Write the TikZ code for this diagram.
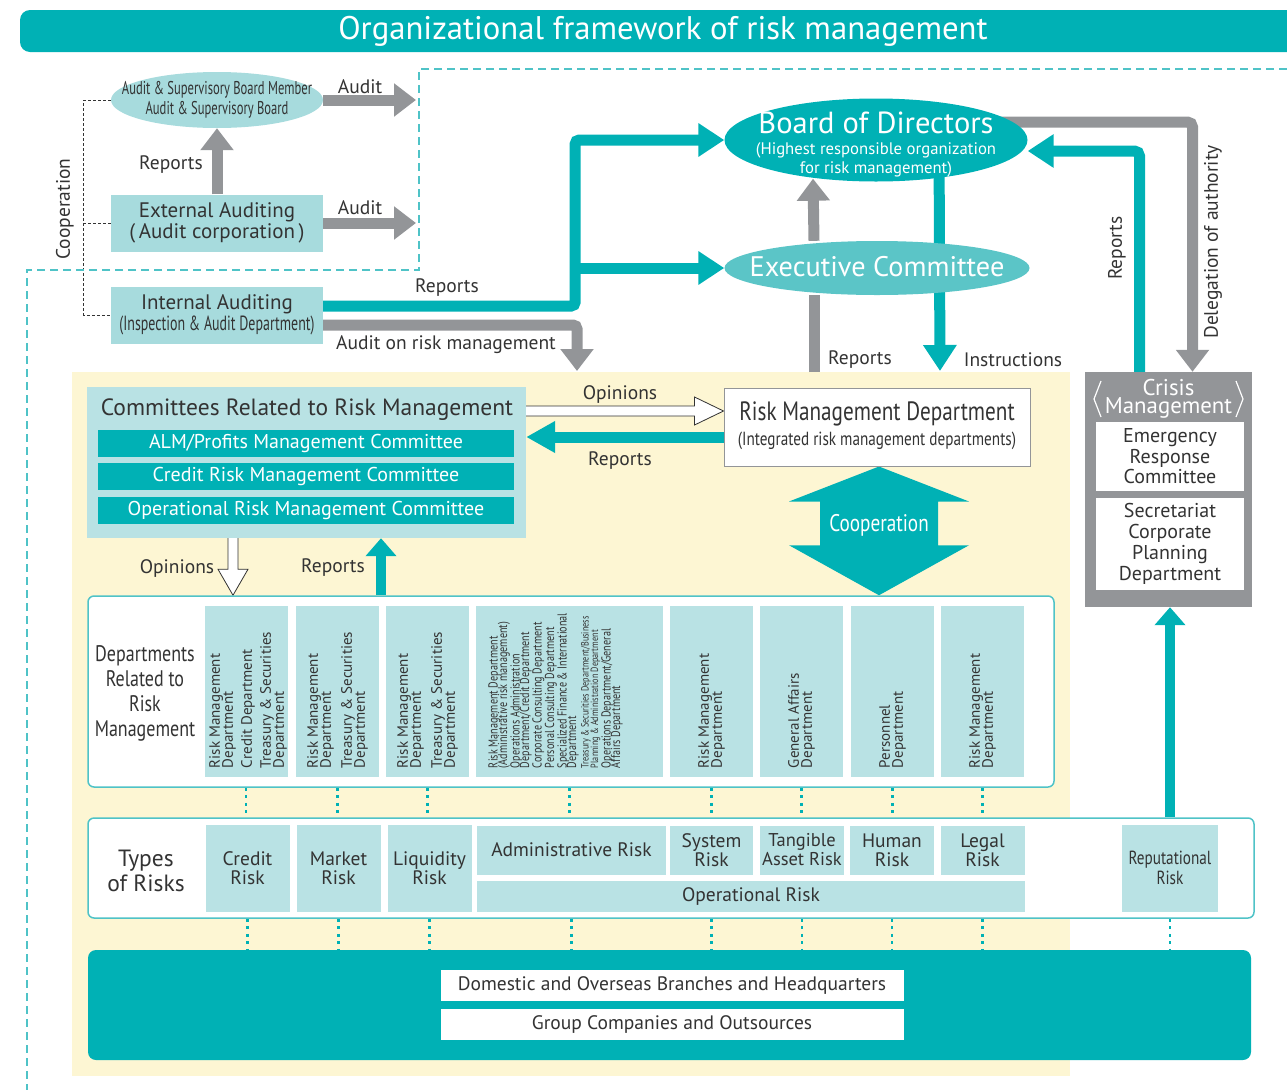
\documentclass[tikz,border=0pt]{standalone}
\usepackage{fontspec}
\setmainfont{PT Sans}
\newfontfamily\narrowfont[FakeStretch=0.8]{PT Sans}
\newfontfamily\colfont[FakeStretch=0.78]{PT Sans}
\newfontfamily\condfont[FakeStretch=0.68]{PT Sans}
\usetikzlibrary{shapes.geometric,arrows.meta,calc}
\newcommand\setfs[2]{\fontsize{#1}{#2}\selectfont}
\definecolor{rmteal}{HTML}{00B1B5}
\definecolor{rmpale}{HTML}{B9E2E4}
\definecolor{rmaudit}{HTML}{A7DBDD}
\definecolor{rmexec}{HTML}{5BC5C7}
\definecolor{rmgrey}{HTML}{939598}
\definecolor{rmyellow}{HTML}{FDF6D3}
\definecolor{rmline}{HTML}{4FC3C7}
\definecolor{rmtext}{HTML}{333333}
\pgfdeclarelayer{back}
\pgfsetlayers{back,main}

\begin{document}
\begin{tikzpicture}[x=1pt,y=-1pt]
\tikzstyle{lbl}=[inner sep=0pt,text=rmtext,font=\setfs{19.5}{21}]
\tikzstyle{box}=[rectangle,inner sep=0pt,align=center,text=rmtext]
\tikzstyle{pale}=[box,fill=rmpale]
\tikzstyle{audit}=[box,fill=rmaudit,minimum width=212pt,minimum height=57pt]
\tikzstyle{bar}=[box,fill=rmteal,text=white,font=\setfs{20}{22},minimum width=416pt,minimum height=27pt]
\tikzstyle{greyarrow}=[draw=rmgrey,line width=11pt,-{Triangle[width=32pt,length=22pt]}]
\tikzstyle{tealarrow}=[draw=rmteal,line width=11pt,-{Triangle[width=32pt,length=26pt]}]
\tikzstyle{tealsmall}=[draw=rmteal,line width=10pt,-{Triangle[width=30pt,length=18pt]}]
\tikzstyle{hollow}=[draw=rmtext,line width=0.8pt,fill=white,line join=miter]
\tikzstyle{dots}=[draw=rmteal,line width=2.5pt,dash pattern=on 3pt off 4.5pt]
\tikzstyle{coltext}=[rotate=90,anchor=west,align=left,inner sep=0pt,text=rmtext,font={\setfs{15}{13}\lineskiplimit=-100pt}]
\tikzstyle{colbox}=[pale,minimum width=83pt,minimum height=171pt]
\tikzstyle{riskbox}=[pale,font=\setfs{19.5}{19}]
\tikzstyle{rmframe}=[rectangle,draw=rmline,line width=1.5pt,rounded corners=6pt,fill=white,inner sep=0pt]
\useasboundingbox (0,0) rectangle (1287,1090);
% title
\fill[rmteal,rounded corners=10pt] (20,10) rectangle (1320,52);
\node[inner sep=0pt,text=white,font=\setfs{32.7}{34}] (title) at (663,31) {Organizational framework of risk management};
% audit frame
\draw[rmline,line width=1.5pt,dash pattern=on 8pt off 5pt] (1287,69) -- (419,69) -- (419,270) -- (27,270) -- (27,1090);
% yellow area
\begin{pgfonlayer}{back}
\node[fill=rmyellow,inner sep=0pt,minimum width=998pt,minimum height=704pt] (rmarea) at (571,724) {};
\end{pgfonlayer}
% auditors
\node[fill=rmaudit,ellipse,inner sep=0pt,minimum width=212pt,minimum height=56pt] (asb) at (217,100) {};
\node[box,font=\condfont\setfs{18.5}{20}] (asbtext) at (asb) {Audit \& Supervisory Board Member\\Audit \& Supervisory Board};
\node[audit,font=\setfs{21}{20.5}] (extaud) at (217,223) {External Auditing\\(\,Audit corporation\,)};
\node[audit,font=\setfs{21}{20.5}] (intaud) at (217,315) {Internal Auditing\\{\condfont\setfs{20.5}{20.5}(Inspection \& Audit Department)}};
% board and executive committee
\node[fill=rmteal,ellipse,inner sep=0pt,minimum width=303pt,minimum height=83pt] (board) at (876,140) {};
\node[box,text=white,font=\setfs{30.5}{32}] (boardtext) at (876,123) {Board of Directors};
\node[box,text=white,font={\setfs{16.7}{19}\lineskiplimit=-100pt}] (boardsub) at (876,160) {(Highest responsible organization\\for risk management)};
\node[fill=rmexec,ellipse,inner sep=0pt,minimum width=305pt,minimum height=54pt] (exec) at (877,268) {};
\node[box,text=white,font=\setfs{28.3}{30}] (exectext) at (877,267) {Executive Committee};
% committees
\node[pale,minimum width=439pt,minimum height=151pt] (comm) at (306.5,462.5) {};
\node[box,font=\setfs{23.5}{25}] (commtitle) at (307,410) {Committees Related to Risk Management};
\node[bar] (alm) at (306,443.5) {ALM/Profits Management Committee};
\node[bar] (crm) at (306,476.5) {Credit Risk Management Committee};
\node[bar] (orm) at (306,510) {Operational Risk Management Committee};
% risk management department
\node[box,fill=white,draw=rmgrey,line width=1pt,minimum width=306pt,minimum height=78pt] (rmd) at (877,427) {};
\node[box,font=\narrowfont\setfs{26.5}{27}] (rmdtext) at (877,414) {Risk Management Department};
\node[box,font=\narrowfont\setfs{19}{20}] (rmdsub) at (877,441) {(Integrated risk management departments)};
% departments
\node[rmframe,minimum width=966pt,minimum height=191pt] (dept) at (571,691.5) {};
\node[box,font=\narrowfont\setfs{22.5}{25}] (deptlabel) at (145,693) {Departments\\Related to\\Risk\\Management};
\node[colbox] (d1) at (246,691.5) {};
\node[colbox] (d2) at (337.5,691.5) {};
\node[colbox] (d3) at (427.5,691.5) {};
\node[colbox,minimum width=187pt] (d4) at (569.5,691.5) {};
\node[colbox] (d5) at (711.5,691.5) {};
\node[colbox] (d6) at (801.5,691.5) {};
\node[colbox] (d7) at (892.5,691.5) {};
\node[colbox] (d8) at (982.5,691.5) {};
\node[coltext] (t1) at ([xshift=2pt,yshift=9pt]d1.south) {Risk Management\\Department\\[6pt]Credit Department\\[6pt]Treasury \& Securities\\Department};
\node[coltext] (t2) at ([yshift=9pt]d2.south) {Risk Management\\Department\\[8pt]Treasury \& Securities\\Department};
\node[coltext] (t3) at ([yshift=9pt]d3.south) {Risk Management\\Department\\[8pt]Treasury \& Securities\\Department};
\node[coltext,font={\colfont\setfs{13}{9.5}\lineskiplimit=-100pt}] (t4) at ([xshift=-14pt,yshift=9pt]d4.south) {Risk Management Department\\(Administrative risk management)\\[3pt]Operations Administration\\Department/Credit Department\\[3pt]Corporate Consulting Department\\[3pt]Personal Consulting Department\\[3pt]Specialized Finance \& International\\Department\\[3pt]{\setfs{10.5}{9.5}Treasury \& Securities Department/Business}\\{\setfs{10.5}{9.5}Planning \& Administration Department}\\[3pt]Operations Department/General\\Affairs Department};
\node[coltext] (t5) at ([yshift=9pt]d5.south) {Risk Management\\Department};
\node[coltext] (t6) at ([yshift=9pt]d6.south) {General Affairs\\Department};
\node[coltext] (t7) at ([yshift=9pt]d7.south) {Personnel\\Department};
\node[coltext] (t8) at ([yshift=9pt]d8.south) {Risk Management\\Department};
% types of risks
\node[rmframe,minimum width=1166pt,minimum height=100pt] (types) at (671,868) {};
\node[box,font=\setfs{23.5}{25}] (typeslabel) at (146,871) {Types\\of Risks};
\node[riskbox,minimum width=84pt,minimum height=87pt] (rcredit) at (247.5,868) {Credit\\Risk};
\node[riskbox,minimum width=84pt,minimum height=87pt] (rmarket) at (338.5,868) {Market\\Risk};
\node[riskbox,minimum width=84pt,minimum height=87pt] (rliquid) at (429.5,868) {Liquidity\\Risk};
\node[riskbox,minimum width=189pt,minimum height=49pt] (radmin) at (571.5,850) {Administrative Risk};
\node[riskbox,minimum width=83pt,minimum height=49pt] (rsystem) at (711.5,850) {System\\Risk};
\node[riskbox,minimum width=84pt,minimum height=49pt,font=\setfs{18.5}{19}] (rtangible) at (802,850) {Tangible\\Asset Risk};
\node[riskbox,minimum width=84pt,minimum height=49pt] (rhuman) at (892,850) {Human\\Risk};
\node[riskbox,minimum width=84pt,minimum height=49pt] (rlegal) at (982.5,850) {Legal\\Risk};
\node[riskbox,minimum width=548pt,minimum height=31pt] (roper) at (751,896) {Operational Risk};
\node[riskbox,minimum width=96pt,minimum height=87pt,font=\narrowfont\setfs{19}{20}] (rrepu) at (1170,868) {Reputational\\Risk};
% crisis management
\node[box,fill=rmgrey,minimum width=167pt,minimum height=235pt] (crisis) at (1168.5,489.5) {};
\node[box,text=white,font=\setfs{22.8}{18}] (crisistitle) at (1168.5,399) {Crisis\\Management};
\draw[white,line width=1.2pt] (1101,381) -- (1094,399) -- (1101,417);
\draw[white,line width=1.2pt] (1236,381) -- (1243,399) -- (1236,417);
\node[box,fill=white,minimum width=148pt,minimum height=69pt,font=\setfs{20}{20.5}] (erc) at (1170,456.5) {Emergency\\Response\\Committee};
\node[box,fill=white,minimum width=148pt,minimum height=92pt,font=\setfs{20}{21}] (secr) at (1170,544) {Secretariat\\Corporate\\Planning\\Department};
% branches
\node[box,fill=rmteal,rounded corners=8pt,minimum width=1163pt,minimum height=110pt] (base) at (669.5,1005) {};
\node[box,fill=white,minimum width=463pt,minimum height=31pt,font=\setfs{19.5}{20}] (branch) at (672,985.5) {Domestic and Overseas Branches and Headquarters};
\node[box,fill=white,minimum width=463pt,minimum height=31pt,font=\setfs{19.5}{20}] (group) at (672,1024.5) {Group Companies and Outsources};
% free ends
\coordinate (auditA) at (416,100);
\coordinate (auditB) at (416,223);
\coordinate (armtip) at (577,371);
\coordinate (split) at (575,268);
\coordinate (rptfoot) at (814,372);
\coordinate (insttip) at (940,371);
% arrows
\begin{pgfonlayer}{back}
\draw[greyarrow] (asb.east) -- (auditA);
\draw[greyarrow] (extaud.east) -- (auditB);
\draw[greyarrow] (extaud.north) -- (asb.south);
\draw[rmtext,line width=0.8pt,dash pattern=on 3pt off 2pt] (asb.west) -- ++(-27,0) |- (intaud.west);
\draw[rmtext,line width=0.8pt,dash pattern=on 3pt off 2pt] (extaud.west) -- ++(-27,0);
\draw[tealarrow,rounded corners=4pt] ([yshift=9pt]intaud.east) -- ++(252,0) |- (board.west);
\draw[tealarrow] (split) -- (exec.west);
\draw[greyarrow,rounded corners=4pt] ([yshift=-10pt]intaud.east) -| (armtip);
\draw[greyarrow] ([xshift=-63pt]exec.north) -- ([xshift=-63pt,yshift=3pt]board.south);
\draw[draw=rmgrey,line width=11pt] (rptfoot) -- ([xshift=-63pt]exec.south);
\draw[tealarrow] ([xshift=63pt]board.center) -- (insttip);
\draw[greyarrow,rounded corners=5pt] ([yshift=18pt]board.center) -| ([xshift=24pt]crisis.north);
\draw[tealarrow,rounded corners=5pt] ([xshift=-29pt]crisis.north) |- ([yshift=-11pt]board.east);
\draw[tealsmall] (rrepu.north |- types.north) -- (rrepu.north |- crisis.south);
% committees and department
\coordinate (opR) at ([yshift=16pt]rmd.west);
\coordinate (opL) at (comm.east |- opR);
\draw[hollow] ($(opL)+(0,-5)$) -- ($(opR)+(-29,-5)$) -- ($(opR)+(-29,-14)$) -- (opR) -- ($(opR)+(-29,14)$) -- ($(opR)+(-29,5)$) -- ($(opL)+(0,5)$);
\coordinate (rpR) at ([yshift=-10pt]rmd.west);
\coordinate (rpL) at (comm.east |- rpR);
\draw[draw=rmteal,line width=11pt,-{Triangle[width=30pt,length=29pt]}] (rpR) -- (rpL);
\coordinate (opU) at ([xshift=-73.5pt]comm.south);
\coordinate (opD) at (opU |- dept.north);
\draw[hollow] ($(opU)+(-5,0)$) -- ($(opD)+(-5,-26)$) -- ($(opD)+(-15,-26)$) -- (opD) -- ($(opD)+(15,-26)$) -- ($(opD)+(5,-26)$) -- ($(opU)+(5,0)$);
\draw[tealsmall] ([xshift=-190pt]dept.north) -- ([xshift=74.5pt]comm.south);
% cooperation
\coordinate (cA) at ([xshift=2pt]rmd.south);
\coordinate (cB) at (cA |- dept.north);
\fill[rmteal] (cA) -- ($(cA)+(90,35)$) -- ($(cA)+(59,35)$) -- ($(cB)+(59,-50)$) -- ($(cB)+(90,-50)$) -- (cB) -- ($(cB)+(-90,-50)$) -- ($(cB)+(-59,-50)$) -- ($(cA)+(-59,35)$) -- ($(cA)+(-90,35)$) -- cycle;
% dotted links
\foreach \c/\r in {d1/rcredit,d2/rmarket,d3/rliquid,d4/radmin,d5/rsystem,d6/rtangible,d7/rhuman,d8/rlegal} {
\draw[dots] (\c.south |- dept.south) -- (\c.south |- types.north);
\draw[dots] (\r.south |- types.south) -- (\r.south |- base.north);}
\draw[dots] (rrepu.south |- types.south) -- (rrepu.south |- base.north);
\end{pgfonlayer}
\node[box,text=white,font=\narrowfont\setfs{24}{26}] (cooptext) at ($(cA)!0.46!(cB)$) {Cooperation};
% labels
\node[lbl] (lauditA) at (360,87) {Audit};
\node[lbl] (lauditB) at (360,208) {Audit};
\node[lbl] (lrepA) at (171,165) {Reports};
\node[lbl,rotate=90] (lcoop) at (65,209) {Cooperation};
\node[lbl] (lrepB) at (447,288) {Reports};
\node[lbl] (larm) at (446,345) {Audit on risk management};
\node[lbl] (lrepC) at (860,360) {Reports};
\node[lbl] (linst) at (1013,360) {Instructions};
\node[lbl,rotate=90] (lrepD) at (1117,248) {Reports};
\node[lbl,rotate=90] (ldeleg) at (1213,242) {Delegation of authority};
\node[lbl] (lopA) at (620,395) {Opinions};
\node[lbl] (lrepE) at (620,461) {Reports};
\node[lbl] (lopB) at (177,568) {Opinions};
\node[lbl] (lrepF) at (333,568) {Reports};
\end{tikzpicture}
\end{document}
